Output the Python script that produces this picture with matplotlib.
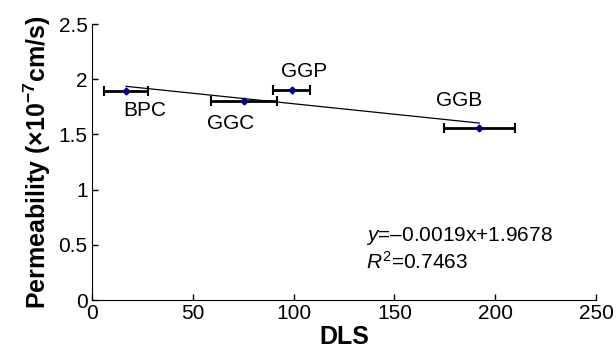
import matplotlib
matplotlib.use('Agg')
import matplotlib.pyplot as plt

plt.rcParams['font.family'] = ['Liberation Sans', 'DejaVu Sans']
plt.rcParams['mathtext.fontset'] = 'custom'
plt.rcParams['mathtext.rm'] = 'Liberation Sans'
plt.rcParams['mathtext.it'] = 'Liberation Sans:italic'
plt.rcParams['mathtext.bf'] = 'Liberation Sans:bold'

# data
names = ['BPC', 'GGC', 'GGP', 'GGB']
dls = [17, 75.5, 99, 192]
dls_err = [11, 16.5, 9, 17.5]
perm = [1.89, 1.80, 1.90, 1.56]
label_x = [26, 69, 105, 182]
label_y = [1.72, 1.60, 2.07, 1.81]

slope = -0.0019
intercept = 1.9678
r2 = 0.7463

fig = plt.figure(figsize=(6.16, 3.53), dpi=100)
ax = fig.add_axes([0.149, 0.150, 0.819, 0.782])

ax.errorbar(dls, perm, xerr=dls_err, fmt='none', ecolor='black',
            elinewidth=2, capsize=3.5, capthick=1.5, zorder=2)
ax.plot(dls, perm, 'D', color='#00008B', markersize=3.5, zorder=3)

# linear trend line between first and last point
tx = [dls[0], dls[-1]]
ty = [slope * v + intercept for v in tx]
ax.plot(tx, ty, color='black', linewidth=0.9, zorder=1)

for n, x, y in zip(names, label_x, label_y):
    ax.text(x, y, n, ha='center', va='center', fontsize=15)

ax.text(136, 0.58, r'$y$=–0.0019x+1.9678', fontsize=15, va='center')
ax.text(136, 0.35, r'$R^2$=%.4f' % r2, fontsize=15, va='center')

ax.set_xlim(0, 250)
ax.set_ylim(0, 2.5)
ax.set_xticks([0, 50, 100, 150, 200, 250])
ax.set_yticks([0, 0.5, 1, 1.5, 2, 2.5])
ax.set_yticklabels(['0', '0.5', '1', '1.5', '2', '2.5'])
ax.tick_params(direction='in', labelsize=15, length=4, width=1, pad=3)
for s in ['top', 'right']:
    ax.spines[s].set_visible(False)

ax.set_xlabel('DLS', fontsize=18, fontweight='bold', labelpad=1)
ax.set_ylabel(r'Permeability (×10$^{\mathbf{-7}}$cm/s)', fontsize=18,
              fontweight='bold', labelpad=4)

fig.savefig('out.png', dpi=100)
